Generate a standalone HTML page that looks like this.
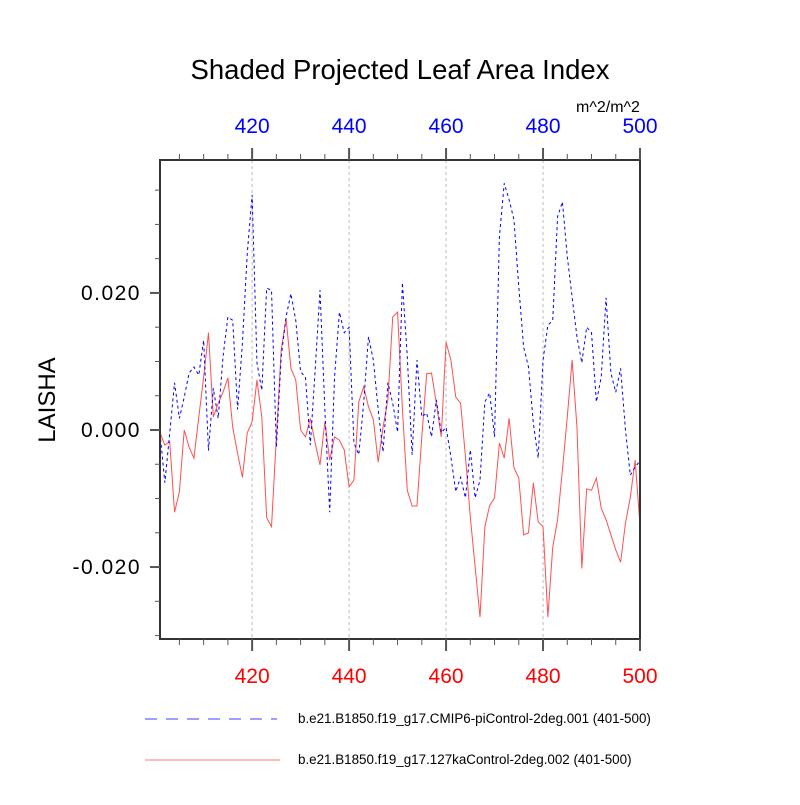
<!DOCTYPE html>
<html><head><meta charset="utf-8"><style>
body{margin:0;background:#fff;width:800px;height:800px;overflow:hidden}
svg text{font-family:"Liberation Sans",sans-serif}
</style></head><body>
<svg id="chart" width="800" height="800" xmlns="http://www.w3.org/2000/svg">
<text x="400" y="79" text-anchor="middle" font-size="27.5">Shaded Projected Leaf Area Index</text>
<text x="608" y="112" text-anchor="middle" font-size="16">m^2/m^2</text>
<text transform="translate(55,400) rotate(-90)" text-anchor="middle" font-size="24">LAISHA</text>
<g id="grid"></g><g id="series"></g><g id="axes"></g>
<g>
<line x1="145" y1="719" x2="277" y2="719" stroke="#0000ff" stroke-width="0.8" stroke-dasharray="12,9"/>
<text x="298" y="723" font-size="13.4">b.e21.B1850.f19_g17.CMIP6-piControl-2deg.001 (401-500)</text>
<line x1="145" y1="760" x2="280" y2="760" stroke="#ff5050" stroke-width="0.8"/>
<text x="298" y="764" font-size="13.4">b.e21.B1850.f19_g17.127kaControl-2deg.002 (401-500)</text>
</g>
</svg>
<script>
const years = Array.from({length:100},(_,i)=>401+i);
const piControl = [-0.0004,-0.0077,-0.0005,0.0069,0.0017,0.0048,0.0083,0.0092,0.008,0.0131,
-0.003,0.0061,0.0017,0.0107,0.0165,0.016,0.003,0.0127,0.0258,0.0343,
0.0098,0.0058,0.0207,0.0204,-0.0025,0.0107,0.0165,0.0199,0.016,0.0085,
0.0077,-0.0022,0.0087,0.0204,0.003,-0.012,0.0077,0.0172,0.0142,0.015,
-0.0019,-0.0036,0.0039,0.0136,0.0102,0.003,-0.0032,0.0069,0.0039,-0.0003,
0.0215,0.0107,-0.0036,0.0102,0.0019,0.0025,-0.001,0.0044,-0.0004,0.0004,
-0.0039,-0.009,-0.0069,-0.0099,-0.0029,-0.0099,-0.0073,0.0041,0.0054,-0.001,
0.0282,0.036,0.0336,0.0307,0.0209,0.0121,0.0092,0.001,-0.0041,0.0102,
0.0153,0.016,0.0311,0.0333,0.0253,0.0194,0.0136,0.0098,0.015,0.0142,
0.0041,0.0077,0.0193,0.0083,0.0055,0.009,0.0,-0.0066,-0.0054,-0.0045];
const control127ka = [-0.0004,-0.0022,-0.0017,-0.012,-0.009,0.0,-0.0025,-0.0041,0.0019,0.0077,
0.0142,0.0019,0.0039,0.0055,0.0076,0.0004,-0.0034,-0.0069,-0.0004,0.0012,
0.0073,0.0019,-0.0128,-0.0141,-0.001,0.0117,0.0163,0.009,0.0073,0.0,
-0.001,0.0017,-0.0019,-0.0051,0.0012,-0.0044,-0.001,-0.0015,-0.0029,-0.0083,
-0.0073,0.0041,0.0063,0.0034,0.0015,-0.0047,0.0004,0.0044,0.0165,0.0172,
0.003,-0.0088,-0.0111,-0.0111,-0.001,0.0082,0.0083,0.0039,-0.001,0.0128,
0.0102,0.0048,0.0039,-0.0039,-0.0127,-0.02,-0.0273,-0.0141,-0.011,-0.0099,
-0.0019,-0.0041,0.0017,-0.0055,-0.007,-0.0153,-0.015,-0.0077,-0.0134,-0.0141,
-0.0273,-0.0171,-0.0131,-0.0058,0.0019,0.0102,0.0004,-0.0202,-0.0086,-0.0088,
-0.007,-0.0114,-0.0131,-0.0153,-0.0175,-0.0193,-0.0136,-0.0098,-0.0044,-0.0139];
const xTicks = [420,440,460,480,500];
const yTicks = [-0.02,0,0.02];
const yTickLabels = ["-0.020","0.000","0.020"];

const L=160,R=640,T=160,B=639;
const xMin=401,xMax=500,yMin=-0.0305,yMax=0.0394;
const sx=v=>L+(v-xMin)/(xMax-xMin)*(R-L);
const sy=v=>B-(v-yMin)/(yMax-yMin)*(B-T);
const NS="http://www.w3.org/2000/svg";
function mk(tag,attrs,parent){const e=document.createElementNS(NS,tag);for(const k in attrs)e.setAttribute(k,attrs[k]);parent.appendChild(e);return e;}
const grid=document.getElementById('grid'),ser=document.getElementById('series'),ax=document.getElementById('axes');

xTicks.forEach(t=>{
  if(t<xMax){const g=mk('line',{x1:sx(t),x2:sx(t),y1:T,y2:B,stroke:'#bbb','stroke-width':1,'stroke-dasharray':'3,3'},grid);
  
  }
});
function series(vals,color,dash,name){
  const p=mk('polyline',{points:vals.map((v,i)=>sx(years[i])+','+sy(v)).join(' '),fill:'none',stroke:color,'stroke-width':1,'stroke-dasharray':dash},ser);
  
  
}
series(control127ka,'#ff5050','none','series-127kaControl');
series(piControl,'#0000ff','3,3','series-piControl');

const box=mk('rect',{x:L,y:T,width:R-L,height:B-T,fill:'none',stroke:'#333','stroke-width':2},ax);


for(let t=405;t<=500;t+=5){
  const major=t%20===0, len=major?12:6;
  mk('line',{x1:sx(t),x2:sx(t),y1:T,y2:T-len,stroke:'#555','stroke-width':major?2:1},ax);
  mk('line',{x1:sx(t),x2:sx(t),y1:B,y2:B+len,stroke:'#555','stroke-width':major?2:1},ax);
}
for(let k=-6;k<=7;k++){
  const v=k*0.005; if(v<yMin||v>yMax)continue;
  const major=k%4===0, len=major?10:5;
  mk('line',{x1:L,x2:L-len,y1:sy(v),y2:sy(v),stroke:'#555','stroke-width':major?2:1},ax);
}
xTicks.forEach(t=>{
  const a=mk('text',{x:sx(t),y:133,'text-anchor':'middle','font-size':21,fill:'#0000ff'},ax);a.textContent=t;
  
  
  const b=mk('text',{x:sx(t),y:683,'text-anchor':'middle','font-size':21,fill:'#ff0000'},ax);b.textContent=t;
  
  
});
yTicks.forEach((t,i)=>{
  const a=mk('text',{x:141,y:sy(t)+7,'text-anchor':'end','font-size':21,'letter-spacing':'1.5'},ax);a.textContent=yTickLabels[i];
  
  
});
</script>
</body></html>
